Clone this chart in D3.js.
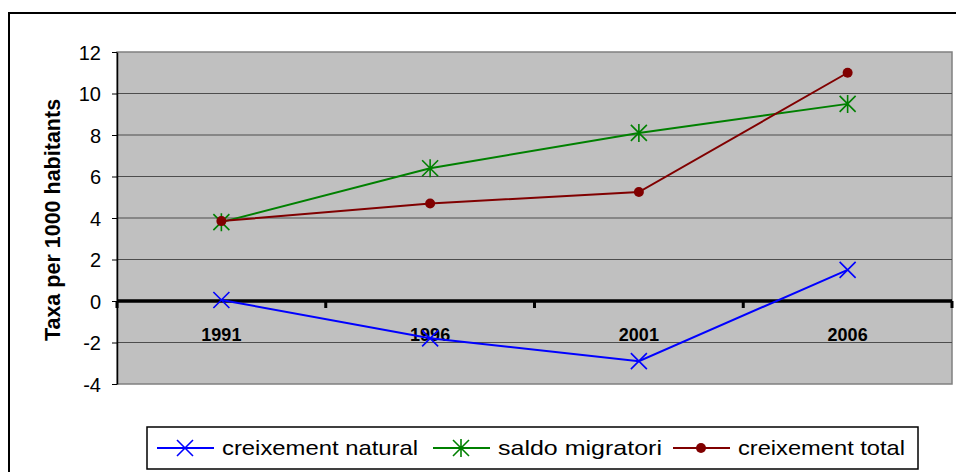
<!DOCTYPE html>
<html>
<head>
<meta charset="utf-8">
<script src="https://cdn.jsdelivr.net/npm/d3@7"></script>
<style>
  body { margin: 0; background: #fff; }
  svg { display: block; font-family: "Liberation Sans", Arial, sans-serif; }
</style>
</head>
<body>
<div id="chart"></div>
<script>
const years = ["1991", "1996", "2001", "2006"];
const natural = [0.05, -1.8, -2.9, 1.5];
const migratori = [3.8, 6.4, 8.1, 9.5];
const total = [3.85, 4.7, 5.25, 11.0];
const yTicks = [-4, -2, 0, 2, 4, 6, 8, 10, 12];

const series = [
    { name: "creixement natural", values: natural, color: "#0000ff", marker: "x" },
    { name: "saldo migratori", values: migratori, color: "#008000", marker: "star" },
    { name: "creixement total", values: total, color: "#800000", marker: "dot" }
];

const width = 956, height = 472;
const plot = { left: 117, top: 52, right: 952, bottom: 384 };

const svg = d3.select("#chart").append("svg")
    .attr("width", width)
    .attr("height", height);

// outer frame
svg.append("rect")
    .attr("x", 9).attr("y", 13)
    .attr("width", 980).attr("height", 500)
    .attr("fill", "#fff")
    .attr("stroke", "#000")
    .attr("stroke-width", 2);

const x = d3.scaleBand()
    .domain(years)
    .range([plot.left, plot.right]);

const y = d3.scaleLinear()
    .domain([-4, 12])
    .range([plot.bottom, plot.top]);

// plot background
svg.append("rect")
    .attr("x", plot.left).attr("y", plot.top)
    .attr("width", plot.right - plot.left)
    .attr("height", plot.bottom - plot.top)
    .attr("fill", "#c0c0c0")
    .attr("stroke", "#808080")
    .attr("stroke-width", 1.5);

// gridlines
svg.append("g")
    .selectAll("line")
    .data(yTicks.filter(d => d !== 0 && d !== -4 && d !== 12))
    .enter().append("line")
    .attr("x1", plot.left).attr("x2", plot.right)
    .attr("y1", d => y(d)).attr("y2", d => y(d))
    .attr("stroke", "#4d4d4d")
    .attr("stroke-width", 1);

// y axis
const yAxis = svg.append("g")
    .attr("transform", `translate(${plot.left},0)`)
    .call(d3.axisLeft(y).tickValues(yTicks).tickSize(5).tickSizeOuter(0).tickFormat(d => String(d)));
yAxis.select(".domain").attr("stroke", "#000").attr("stroke-width", 1.5);
yAxis.selectAll(".tick line").attr("stroke", "#000");
yAxis.selectAll(".tick text")
    .attr("font-size", 20)
    .attr("fill", "#000")
    .attr("x", -16)
    .attr("dy", "0.35em")
    .attr("font-family", "Liberation Sans, Arial, sans-serif");

svg.append("text")
    .attr("transform", `translate(60,220) rotate(-90)`)
    .attr("text-anchor", "middle")
    .attr("font-size", 21.5)
    .attr("font-weight", "bold")
    .text("Taxa per 1000 habitants");

// zero axis with category ticks
const zeroY = y(0);
svg.append("line")
    .attr("x1", plot.left).attr("x2", plot.right)
    .attr("y1", zeroY).attr("y2", zeroY)
    .attr("stroke", "#000")
    .attr("stroke-width", 3.5);

const boundaries = years.map(d => x(d)).concat([x(years[years.length - 1]) + x.bandwidth()]);
svg.append("g")
    .selectAll("line")
    .data(boundaries)
    .enter().append("line")
    .attr("x1", d => d).attr("x2", d => d)
    .attr("y1", zeroY).attr("y2", zeroY + 7)
    .attr("stroke", "#000")
    .attr("stroke-width", 3);

svg.append("g")
    .selectAll("text")
    .data(years)
    .enter().append("text")
    .attr("x", d => x(d) + x.bandwidth() / 2)
    .attr("y", zeroY + 40)
    .attr("text-anchor", "middle")
    .attr("font-size", 18)
    .attr("font-weight", "bold")
    .text(d => d);

function drawMarker(g, type, color) {
    if (type === "x") {
        g.append("path").attr("d", "M-8,-8L8,8M-8,8L8,-8")
            .attr("stroke", color).attr("stroke-width", 1.6).attr("fill", "none");
    } else if (type === "star") {
        g.append("path").attr("d", "M-8,-8L8,8M-8,8L8,-8M0,-9L0,9")
            .attr("stroke", color).attr("stroke-width", 1.6).attr("fill", "none");
    } else {
        g.append("circle").attr("r", 5).attr("fill", color);
    }
}

const line = d3.line()
    .x((d, i) => x(years[i]) + x.bandwidth() / 2)
    .y(d => y(d));

series.forEach(s => {
    svg.append("path")
        .datum(s.values)
        .attr("d", line)
        .attr("fill", "none")
        .attr("stroke", s.color)
        .attr("stroke-width", 2);
    s.values.forEach((v, i) => {
        const g = svg.append("g")
            .attr("transform", `translate(${x(years[i]) + x.bandwidth() / 2},${y(v)})`);
        drawMarker(g, s.marker, s.color);
    });
});

// legend
const legend = svg.append("g");
legend.append("rect")
    .attr("x", 147).attr("y", 427)
    .attr("width", 771).attr("height", 42)
    .attr("fill", "#fff")
    .attr("stroke", "#000")
    .attr("stroke-width", 1.5);

const legendX = [157, 433, 673];
const textW = [196, 164, 167];
series.forEach((s, i) => {
    const lx = legendX[i];
    const g = legend.append("g");
    g.append("line")
        .attr("x1", lx).attr("x2", lx + 57)
        .attr("y1", 448).attr("y2", 448)
        .attr("stroke", s.color).attr("stroke-width", 2);
    drawMarker(g.append("g").attr("transform", `translate(${lx + 28},448)`), s.marker, s.color);
    g.append("text")
        .attr("x", lx + 65)
        .attr("y", 455)
        .attr("font-size", 21)
        .attr("textLength", textW[i])
        .attr("lengthAdjust", "spacingAndGlyphs")
        .text(s.name);
});
</script>
</body>
</html>
